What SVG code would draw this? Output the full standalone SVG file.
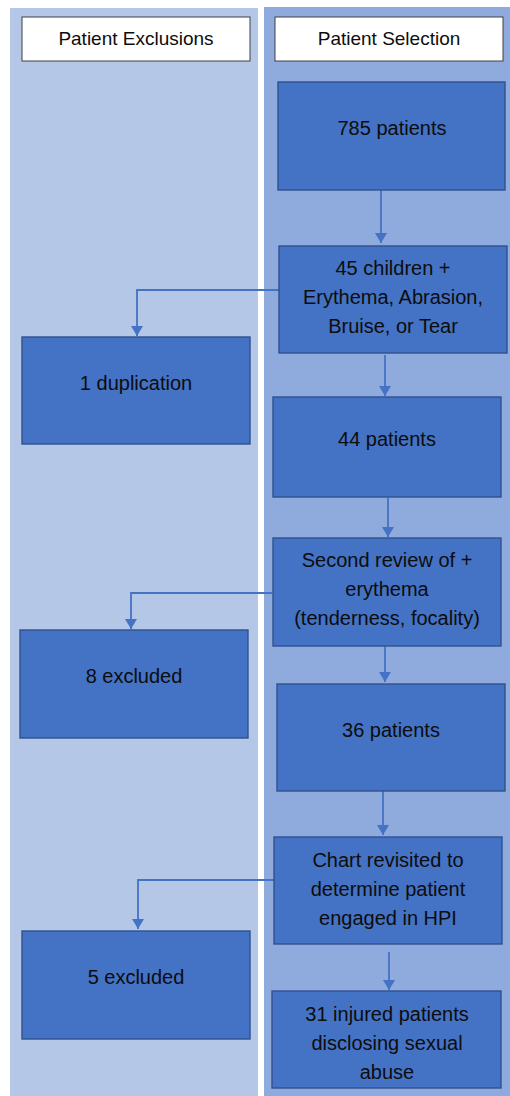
<svg xmlns="http://www.w3.org/2000/svg" width="510" height="1096" viewBox="0 0 510 1096">
<defs>
<marker id="ah" markerUnits="userSpaceOnUse" markerWidth="11" markerHeight="12" refX="10" refY="6" orient="auto" viewBox="0 0 10 12">
<path d="M0,0 L10,6 L0,12 z" fill="#4472c4"/>
</marker>
<style>
.hdr{fill:#ffffff;stroke:#404040;stroke-width:1}
.box{fill:#4472c4;stroke:#2f528f;stroke-width:1.4}
.t{font-family:"Liberation Sans",Arial,sans-serif;font-size:20px;fill:#0d0d0d;text-anchor:middle}
.th{font-family:"Liberation Sans",Arial,sans-serif;font-size:19px;fill:#0d0d0d;text-anchor:middle}
.c{fill:none;stroke:#4472c4;stroke-width:1.8;marker-end:url(#ah)}
</style>
</defs>
<rect width="510" height="1096" fill="#ffffff"/>
<g id="lanes">
<rect x="10" y="8" width="248" height="1088" fill="#b4c7e7"/>
<rect x="264" y="7" width="246" height="1089" fill="#8faadc"/>
</g>
<g id="hdr-exclusions"><rect class="hdr" x="22" y="17" width="228" height="44"/><text class="th" x="136" y="45">Patient Exclusions</text></g>
<g id="hdr-selection"><rect class="hdr" x="275" y="17" width="228" height="44"/><text class="th" x="389" y="45">Patient Selection</text></g>
<g id="connectors">
<path class="c" d="M381,190 V243"/>
<path class="c" d="M279,290 H137 V336"/>
<path class="c" d="M385,355 V396"/>
<path class="c" d="M388,498 V537"/>
<path class="c" d="M272,593 H131 V629"/>
<path class="c" d="M385,646 V682"/>
<path class="c" d="M383,791 V835"/>
<path class="c" d="M274,880 H138 V929"/>
<path class="c" d="M389,952 V990"/>
</g>
<g id="n785"><rect class="box" x="278" y="82" width="227" height="108"/><text class="t" x="392" y="135">785 patients</text></g>
<g id="n45"><rect class="box" x="279" y="246" width="228" height="107"/><text class="t" x="393" y="275">45 children +</text><text class="t" x="393" y="304">Erythema, Abrasion,</text><text class="t" x="393" y="333">Bruise, or Tear</text></g>
<g id="ndup"><rect class="box" x="22" y="337" width="228" height="107"/><text class="t" x="136" y="390">1 duplication</text></g>
<g id="n44"><rect class="box" x="273" y="397" width="228" height="100"/><text class="t" x="387" y="446">44 patients</text></g>
<g id="nsecond"><rect class="box" x="273" y="538" width="228" height="108"/><text class="t" x="387" y="567">Second review of +</text><text class="t" x="387" y="596">erythema</text><text class="t" x="387" y="625">(tenderness, focality)</text></g>
<g id="n8"><rect class="box" x="20" y="630" width="228" height="108"/><text class="t" x="134" y="683">8 excluded</text></g>
<g id="n36"><rect class="box" x="277" y="684" width="228" height="107"/><text class="t" x="391" y="737">36 patients</text></g>
<g id="nchart"><rect class="box" x="274" y="837" width="228" height="107"/><text class="t" x="388" y="867">Chart revisited to</text><text class="t" x="388" y="896">determine patient</text><text class="t" x="388" y="925">engaged in HPI</text></g>
<g id="n5"><rect class="box" x="22" y="931" width="228" height="108"/><text class="t" x="136" y="984">5 excluded</text></g>
<g id="n31"><rect class="box" x="272" y="991" width="229" height="97"/><text class="t" x="387" y="1021">31 injured patients</text><text class="t" x="387" y="1050">disclosing sexual</text><text class="t" x="387" y="1079">abuse</text></g>
</svg>
